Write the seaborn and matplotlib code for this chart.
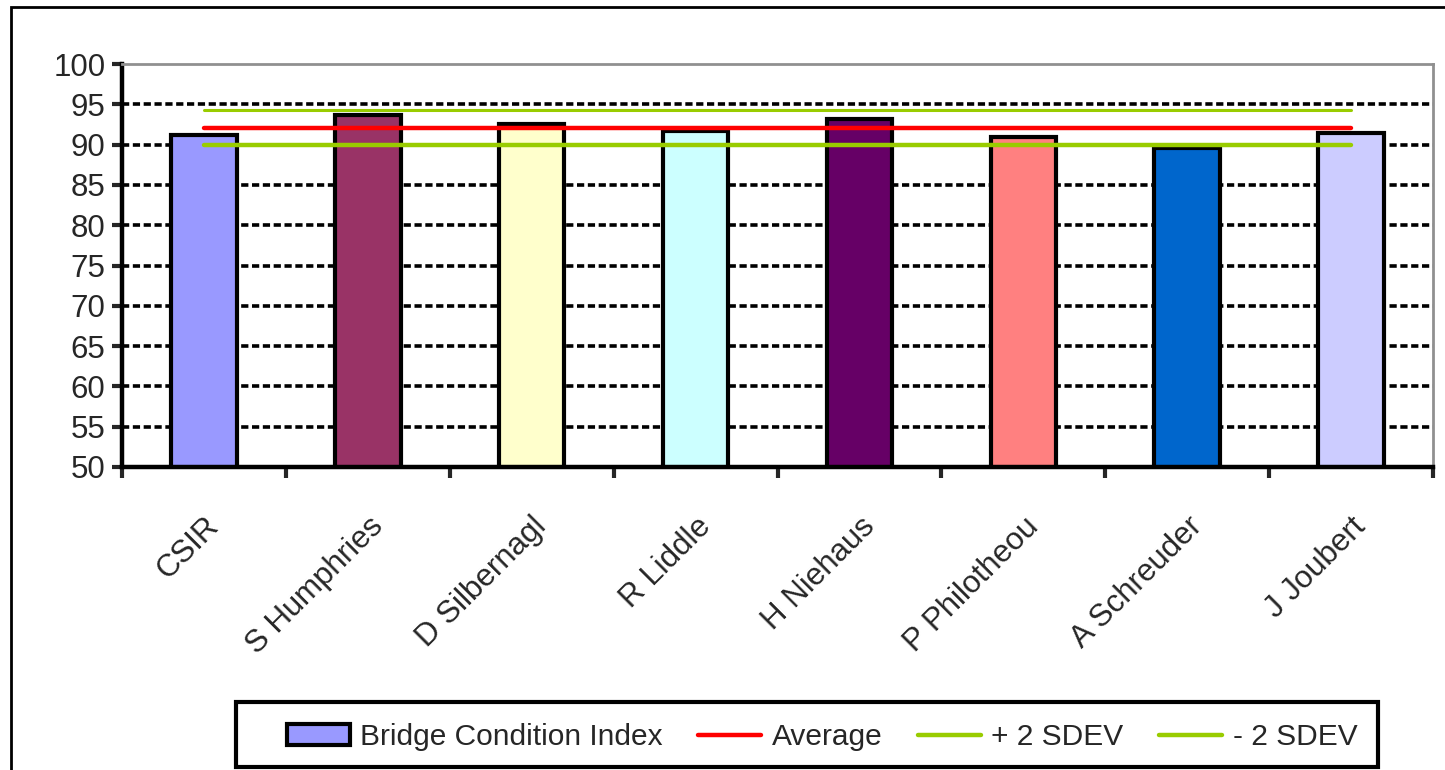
import matplotlib
matplotlib.use("Agg")
import matplotlib.pyplot as plt
from matplotlib.patches import Patch, Rectangle
from matplotlib.lines import Line2D
import seaborn as sns
import pandas as pd

# values
names = ["CSIR", "S Humphries", "D Silbernagl", "R Liddle",
         "H Niehaus", "P Philotheou", "A Schreuder", "J Joubert"]
bci = [91.2, 93.7, 92.6, 91.7, 93.2, 91.0, 89.6, 91.5]
average = 92.1
plus_2sd = 94.3
minus_2sd = 89.9
bar_colors = ["#9999FF", "#993366", "#FFFFCC", "#CCFFFF",
              "#660066", "#FF8080", "#0066CC", "#CCCCFF"]

sns.set_theme(style="white")
plt.rcParams["font.family"] = ["Liberation Sans", "DejaVu Sans"]

df = pd.DataFrame({"name": names, "bci": bci})

fig = plt.figure(figsize=(14.45, 7.7), dpi=100)
ax = fig.add_axes([122 / 1445, 1 - 467 / 770, (1433 - 122) / 1445, (467 - 64) / 770])

# horizontal grid, dashed black
for v in range(55, 100, 5):
    ax.axhline(v, color="black", lw=2.6, ls=(0, (2, 1)), zorder=0)

sns.barplot(data=df, x="name", y="bci", hue="name", palette=bar_colors,
            saturation=1, legend=False, width=0.4, edgecolor="black",
            linewidth=3, ax=ax, zorder=2)

xs = list(range(len(names)))
ax.plot(xs, [plus_2sd] * len(xs), color="#99CC00", lw=2.2, zorder=3)
ax.plot(xs, [average] * len(xs), color="#FF0000", lw=3.2, zorder=3)
ax.plot(xs, [minus_2sd] * len(xs), color="#99CC00", lw=3.2, zorder=3)

ax.set_ylim(50, 100)
ax.set_xlim(-0.5, len(names) - 0.5)
ax.set_yticks(range(50, 101, 5))
ax.tick_params(axis="y", labelsize=22.5, length=7, width=3, direction="out",
               left=True, pad=5)
ax.set_xticks(xs)
ax.set_xticklabels(names, rotation=45, ha="right", rotation_mode="anchor",
                   fontsize=22.5)
ax.tick_params(axis="x", which="major", length=0, pad=32)
ax.set_xticks([i + 0.5 for i in range(-1, len(names))], minor=True)
ax.tick_params(axis="x", which="minor", length=8, width=3, direction="out",
               bottom=True)
ax.set_xlabel("")
ax.set_ylabel("")

for side in ["left", "bottom"]:
    ax.spines[side].set_color("black")
    ax.spines[side].set_linewidth(3.2)
for side in ["top", "right"]:
    ax.spines[side].set_color("#909090")
    ax.spines[side].set_linewidth(2)

handles = [
    Patch(facecolor=bar_colors[0], edgecolor="black", linewidth=3),
    Line2D([], [], color="#FF0000", lw=3.2),
    Line2D([], [], color="#99CC00", lw=3.2),
    Line2D([], [], color="#99CC00", lw=3.2),
]
labels = ["Bridge Condition Index", "Average", "+ 2 SDEV", "- 2 SDEV"]
leg = fig.legend(handles, labels, ncol=4, loc="center",
                 bbox_to_anchor=(822 / 1445, 1 - 737 / 770), fontsize=21.5,
                 frameon=False, handlelength=2.1,
                 columnspacing=1.2, handletextpad=0.35)

# legend box drawn separately (wider side padding than matplotlib allows)
fig.patches.append(Rectangle((236 / 1445, 1 - 767 / 770), (1378 - 236) / 1445,
                             (767 - 702) / 770, transform=fig.transFigure,
                             fill=False, edgecolor="black", lw=3))

# outer chart border (cropped at right and bottom)
fig.patches.append(Rectangle((11 / 1445, -0.1), 1.2, 1.1 - 7 / 770,
                             transform=fig.transFigure, fill=False,
                             edgecolor="black", lw=2))

fig.savefig("out.png", dpi=100)
